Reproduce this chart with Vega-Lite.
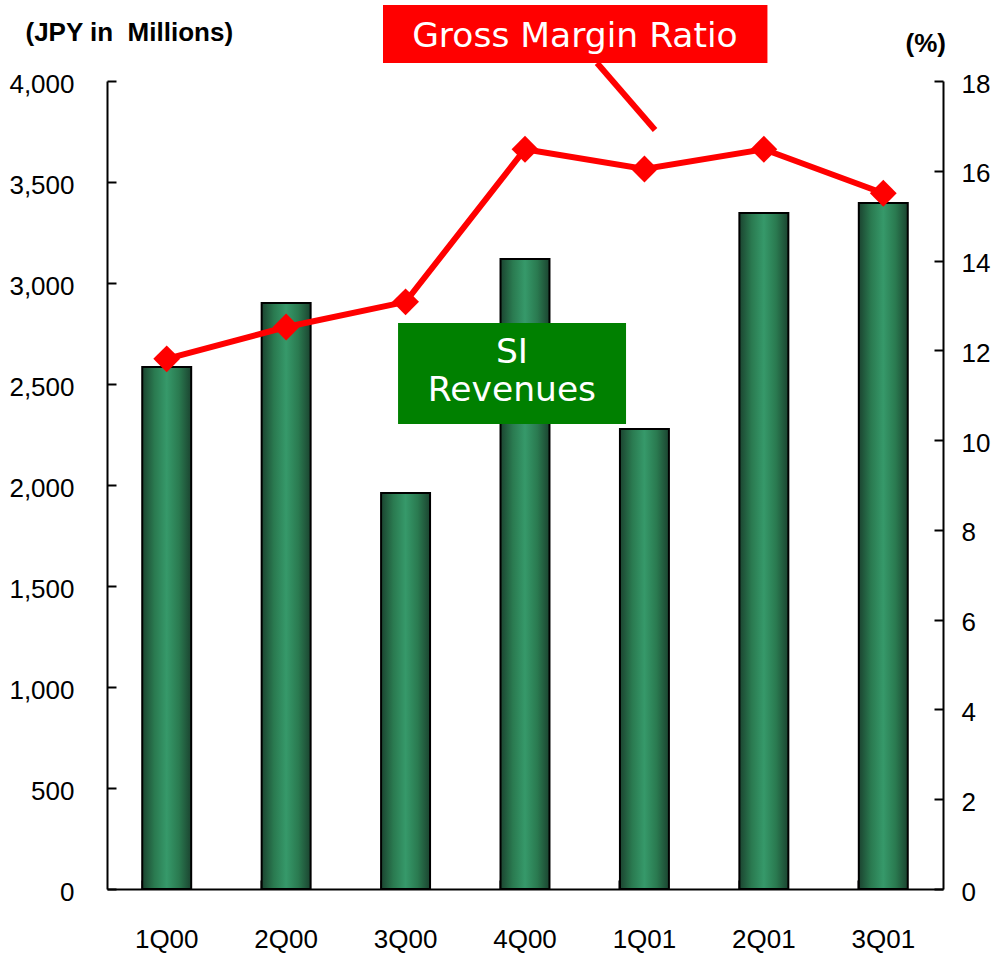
{
  "$schema": "https://vega.github.io/schema/vega-lite/v6.json",
  "width": 836,
  "height": 808,
  "autosize": {"type": "none"},
  "padding": {"left": 107, "top": 81, "right": 49, "bottom": 66},
  "background": "white",
  "config": {
    "view": {"stroke": null},
    "axis": {
      "labelFont": "Liberation Sans Narrow, Arial Narrow, Liberation Sans, sans-serif",
      "labelFontSize": 26,
      "labelColor": "black",
      "domainColor": "black",
      "domainWidth": 2,
      "tickColor": "black",
      "tickWidth": 2,
      "grid": false,
      "titleFont": "Liberation Sans, Arial, sans-serif",
      "titleFontWeight": "bold",
      "titleFontSize": 26,
      "titleColor": "black"
    }
  },
  "datasets": {
    "quarters": [
      {"quarter": "1Q00", "revenue": 2584, "margin": 11.81},
      {"quarter": "2Q00", "revenue": 2901, "margin": 12.52},
      {"quarter": "3Q00", "revenue": 1960, "margin": 13.08},
      {"quarter": "4Q00", "revenue": 3119, "margin": 16.48},
      {"quarter": "1Q01", "revenue": 2277, "margin": 16.04},
      {"quarter": "2Q01", "revenue": 3347, "margin": 16.48},
      {"quarter": "3Q01", "revenue": 3396, "margin": 15.5}
    ],
    "boxes": [
      {"label": "Gross Margin Ratio", "x0": 2.311, "x1": 5.53, "y0": 4089, "y1": 4376, "fill": "#ff0000"},
      {"label": "SI Revenues", "x0": 2.437, "x1": 4.346, "y0": 2302, "y1": 2802, "fill": "#008000"}
    ],
    "connector": [
      {"x0": 4.103, "x1": 4.589, "y0": 4089, "y1": 3757}
    ],
    "texts": [
      {"text": "Gross Margin Ratio", "x": 3.918, "y": 4168},
      {"text": "SI", "x": 3.391, "y": 2604},
      {"text": "Revenues", "x": 3.391, "y": 2416}
    ]
  },
  "layer": [
    {
      "data": {"name": "quarters"},
      "mark": {
        "type": "bar",
        "stroke": "black",
        "strokeWidth": 2,
        "color": {
          "gradient": "linear",
          "x1": 0, "x2": 1, "y1": 0, "y2": 0,
          "stops": [
            {"offset": 0, "color": "#1b4430"},
            {"offset": 0.25, "color": "#2a7a50"},
            {"offset": 0.5, "color": "#36996a"},
            {"offset": 0.75, "color": "#2a7a50"},
            {"offset": 1, "color": "#1b4430"}
          ]
        }
      },
      "encoding": {
        "x": {
          "field": "quarter",
          "type": "ordinal",
          "sort": null,
          "scale": {"paddingInner": 0.59, "paddingOuter": 0.295},
          "axis": {
            "title": null,
            "labelAngle": 0,
            "bandPosition": 0,
            "tickSize": -9,
            "labelPadding": 46
          }
        },
        "y": {
          "field": "revenue",
          "type": "quantitative",
          "scale": {"domain": [0, 4000], "nice": false},
          "axis": {
            "values": [0, 500, 1000, 1500, 2000, 2500, 3000, 3500, 4000],
            "format": ",.0f",
            "tickSize": -9,
            "labelPadding": 42,
            "labelOffset": 3,
            "title": "(JPY in\u00a0 Millions)",
            "titleAngle": 0,
            "titleAlign": "left",
            "titleBaseline": "alphabetic",
            "titleX": -82,
            "titleY": -41
          }
        }
      }
    },
    {
      "data": {"name": "quarters"},
      "encoding": {
        "x": {"field": "quarter", "type": "ordinal", "sort": null, "axis": null},
        "y": {
          "field": "margin",
          "type": "quantitative",
          "scale": {"domain": [0, 18], "nice": false},
          "axis": {
            "orient": "right",
            "values": [0, 2, 4, 6, 8, 10, 12, 14, 16, 18],
            "format": "d",
            "tickSize": -9,
            "labelPadding": 27,
            "labelOffset": 3,
            "title": "(%)",
            "titleAngle": 0,
            "titleAlign": "left",
            "titleBaseline": "alphabetic",
            "titleX": -38,
            "titleY": -30
          }
        }
      },
      "layer": [
        {"mark": {"type": "line", "color": "#ff0000", "strokeWidth": 6}},
        {"mark": {"type": "point", "shape": "diamond", "filled": true, "color": "#ff0000", "size": 720, "opacity": 1}}
      ]
    },
    {
      "layer": [
        {
          "data": {"name": "boxes"},
          "mark": {"type": "rect"},
          "encoding": {
            "x": {"field": "x0", "type": "quantitative", "scale": {"domain": [0, 7], "nice": false, "zero": false}, "axis": null},
            "x2": {"field": "x1"},
            "y": {"field": "y0", "type": "quantitative", "scale": {"domain": [0, 4000], "nice": false}, "axis": null},
            "y2": {"field": "y1"},
            "color": {"field": "fill", "type": "nominal", "scale": null, "legend": null}
          }
        },
        {
          "data": {"name": "connector"},
          "mark": {"type": "rule", "color": "#ff0000", "strokeWidth": 6},
          "encoding": {
            "x": {"field": "x0", "type": "quantitative"},
            "x2": {"field": "x1"},
            "y": {"field": "y0", "type": "quantitative"},
            "y2": {"field": "y1"}
          }
        },
        {
          "data": {"name": "texts"},
          "mark": {"type": "text", "font": "DejaVu Sans, Verdana, sans-serif", "fontSize": 34.5, "color": "white", "align": "center", "baseline": "alphabetic"},
          "encoding": {
            "x": {"field": "x", "type": "quantitative"},
            "y": {"field": "y", "type": "quantitative"},
            "text": {"field": "text", "type": "nominal"}
          }
        }
      ]
    }
  ],
  "resolve": {"scale": {"x": "independent", "y": "independent"}}
}
